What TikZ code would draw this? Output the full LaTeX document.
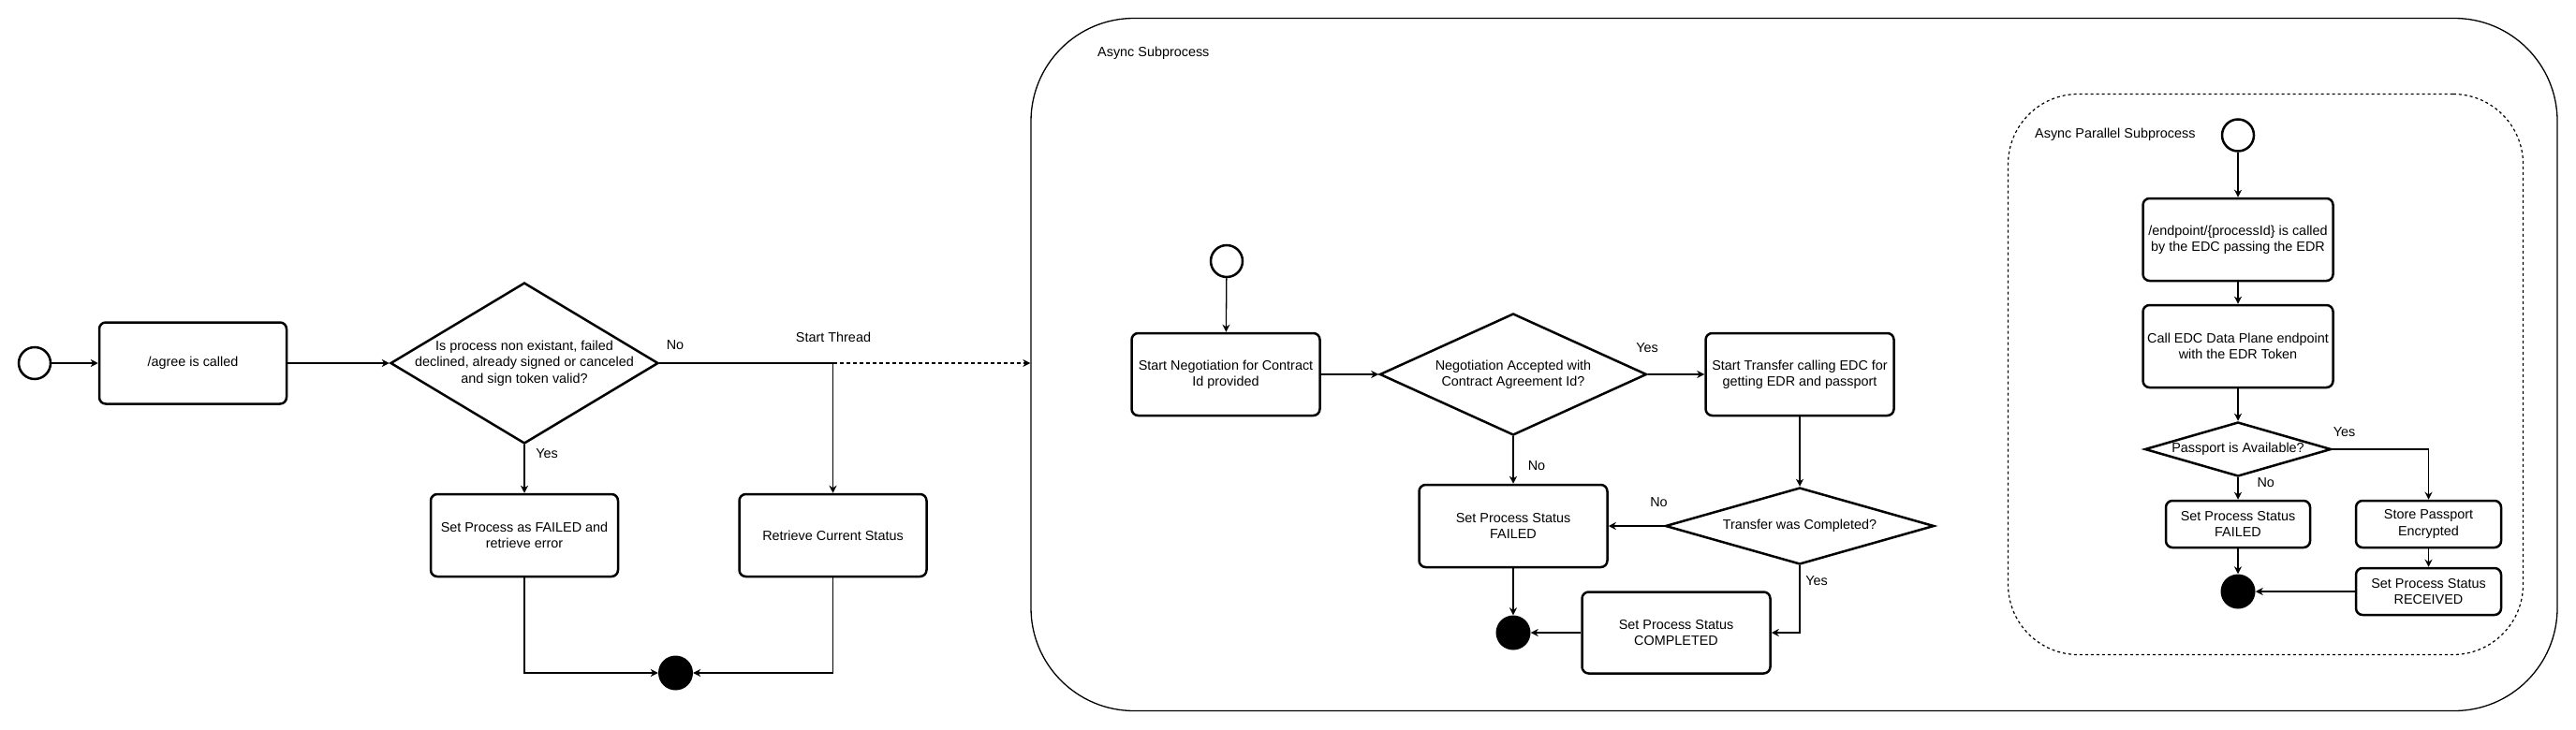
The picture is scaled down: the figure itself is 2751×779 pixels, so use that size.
\documentclass[tikz,border=0pt]{standalone}
\usepackage{fontspec}
\setmainfont{Liberation Sans}
\usetikzlibrary{shapes.geometric,arrows.meta}

\begin{document}
\begin{tikzpicture}[x=1pt,y=-1pt,
  font=\fontsize{14.4}{17.3}\selectfont,
  >={Stealth[length=8pt,width=8pt,inset=2.5pt]},
  flow/.style={->,line width=1.3pt},
  startnode/.style={draw,circle,line width=2.5pt,minimum size=34pt,inner sep=0pt},
  endnode/.style={circle,fill=black,minimum size=37pt,inner sep=0pt},
  action/.style={draw,rounded corners=7pt,line width=2.5pt,align=center,inner sep=0pt},
  decision/.style={draw,diamond,line width=2.5pt,inner sep=0pt},
  dtext/.style={align=center,inner sep=0pt},
  tag/.style={inner sep=0pt}
]
\useasboundingbox (0,0) rectangle (2751,779);

% Main flow
\node[startnode] (start1) at (37,388) {};
\node[action, minimum width=200pt, minimum height=87pt] (agree) at (206,388) {/agree is called};
\node[decision, minimum width=286pt, minimum height=172pt,
  label={[dtext]center:{Is process non existant, failed\\declined, already signed or canceled\\and sign token valid?}}] (chk) at (560,388) {};
\node[action, minimum width=200pt, minimum height=88pt] (fail1) at (560,572) {Set Process as FAILED and\\retrieve error};
\node[action, minimum width=200pt, minimum height=88pt] (retr) at (889.5,572) {Retrieve Current Status};
\node[endnode] (end1) at (721.5,719) {};

\node[tag] (no1) at (721,369) {No};
\node[tag] (thread) at (890,360) {Start Thread};
\node[tag] (yes1) at (584,485) {Yes};

% Async Subprocess
\node[draw, rounded corners=110pt, line width=1.3pt, minimum width=1630pt, minimum height=740pt] (async) at (1916,389.5) {};
\node[tag, anchor=west] (asynclbl) at (1172,57) {Async Subprocess};

\node[startnode] (start2) at (1310,279) {};
\node[action, minimum width=201pt, minimum height=88pt] (neg) at (1309,400) {Start Negotiation for Contract\\Id provided};
\node[decision, minimum width=285pt, minimum height=130pt,
  label={[dtext]center:{Negotiation Accepted with\\Contract Agreement Id?}}] (dia2) at (1616,400) {};
\node[action, minimum width=201pt, minimum height=88pt] (trans) at (1922,400) {Start Transfer calling EDC for\\getting EDR and passport};
\node[action, minimum width=201pt, minimum height=88pt] (fail2) at (1616,562) {Set Process Status\\FAILED};
\node[decision, minimum width=287pt, minimum height=82pt,
  label={[dtext]center:{Transfer was Completed?}}] (dia3) at (1922,562) {};
\node[action, minimum width=201pt, minimum height=87pt] (done) at (1790,676) {Set Process Status\\COMPLETED};
\node[endnode] (end2) at (1616,676) {};

\node[tag] (yes2) at (1759,372) {Yes};
\node[tag] (no2) at (1641,498) {No};
\node[tag] (no3) at (1771.5,537) {No};
\node[tag] (yes3) at (1940,621) {Yes};

% Async Parallel Subprocess
\node[draw, rounded corners=75pt, line width=1.2pt, dash pattern=on 3pt off 3pt, minimum width=550pt, minimum height=599pt] (par) at (2419.5,400) {};
\node[tag, anchor=west] (parlbl) at (2173,144) {Async Parallel Subprocess};

\node[startnode] (start3) at (2390,144.5) {};
\node[action, minimum width=203pt, minimum height=88pt] (ep) at (2390,256) {/endpoint/\{processId\} is called\\by the EDC passing the EDR};
\node[action, minimum width=203pt, minimum height=88pt] (call) at (2390,370) {Call EDC Data Plane endpoint\\with the EDR Token};
\node[decision, minimum width=199pt, minimum height=58pt,
  label={[dtext]center:{Passport is Available?}}] (dia4) at (2390,480) {};
\node[action, minimum width=154pt, minimum height=50pt] (fail3) at (2390,560) {Set Process Status\\FAILED};
\node[action, minimum width=155pt, minimum height=50pt] (store) at (2593.5,560) {Store Passport\\Encrypted};
\node[action, minimum width=155pt, minimum height=50pt] (recv) at (2593.5,632) {Set Process Status\\RECEIVED};
\node[endnode] (end3) at (2390,632) {};

\node[tag] (yes4) at (2503.5,462) {Yes};
\node[tag] (no4) at (2419.7,516) {No};

% Connections
\draw[flow] (start1) -- (agree);
\draw[flow] (agree) -- (chk);
\draw[flow] (chk) -- (fail1);
\draw[flow] (chk) -| (retr);
\draw[flow, dash pattern=on 4pt off 3pt] (retr.north |- chk.east) -- (async.west |- chk.east);
\draw[flow] (fail1) |- (end1);
\draw[flow] (retr) |- (end1);

\draw[flow] (start2) -- (neg);
\draw[flow] (neg) -- (dia2);
\draw[flow] (dia2) -- (trans);
\draw[flow] (dia2) -- (fail2);
\draw[flow] (trans) -- (dia3);
\draw[flow] (dia3) -- (fail2);
\draw[flow] (dia3) |- (done);
\draw[flow] (done) -- (end2);
\draw[flow] (fail2) -- (end2);

\draw[flow] (start3) -- (ep);
\draw[flow] (ep) -- (call);
\draw[flow] (call) -- (dia4);
\draw[flow] (dia4) -- (fail3);
\draw[flow] (dia4) -| (store);
\draw[flow] (store) -- (recv);
\draw[flow] (recv) -- (end3);
\draw[flow] (fail3) -- (end3);
\end{tikzpicture}
\end{document}
